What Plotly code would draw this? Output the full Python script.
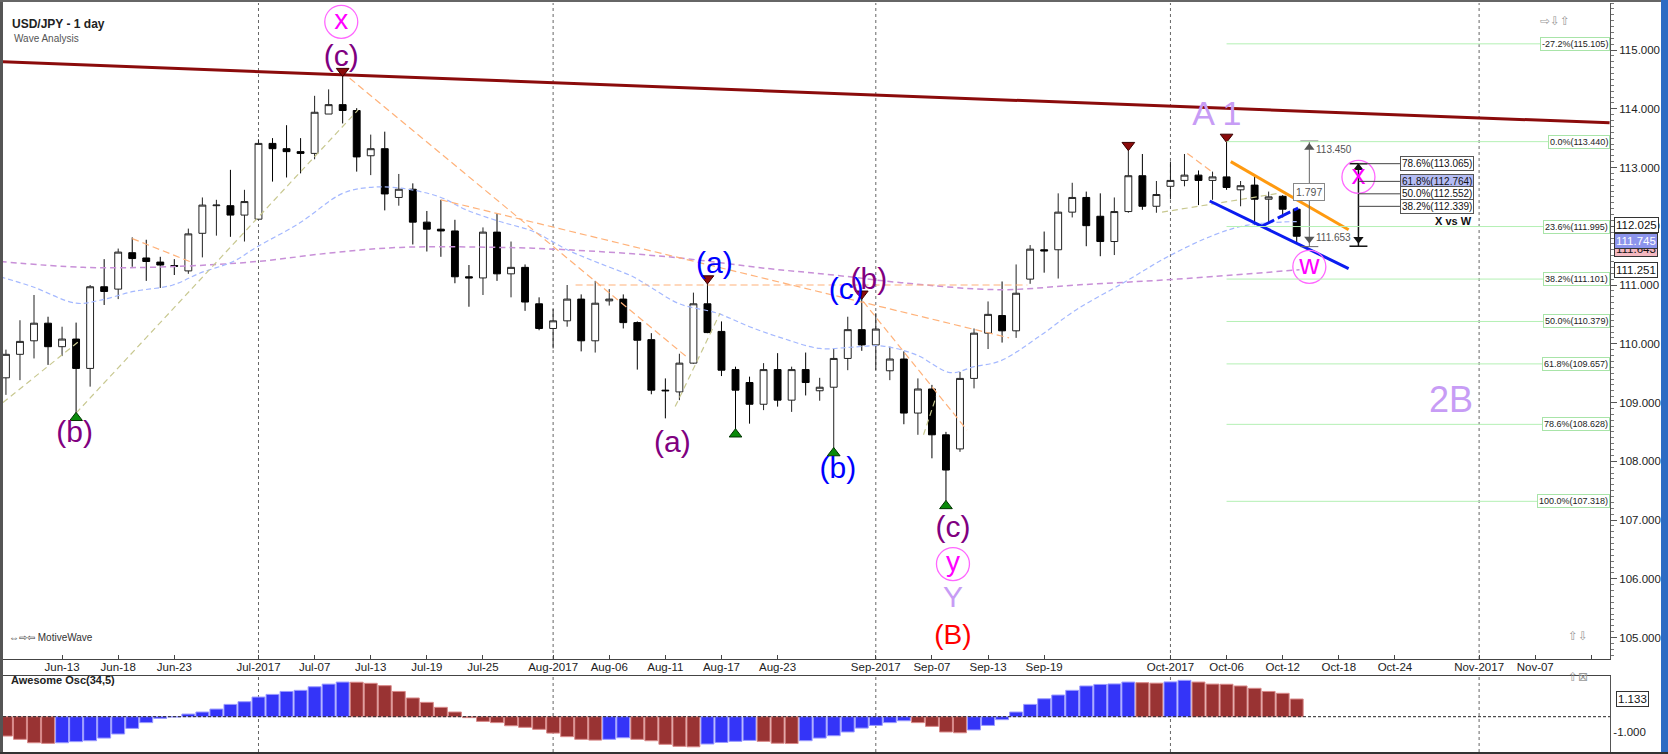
import pandas as pd
import plotly.graph_objects as go

W, H = 1668, 754
ML, MR, MT, MB = 3, 58, 3, 2
FONT = "Liberation Sans, Arial, sans-serif"

# ---- daily USD/JPY bars, 7 Jun - 13 Oct 2017 ----
DATES = pd.bdate_range("2017-06-07", "2017-10-13")
BARS = list(range(len(DATES)))

OPEN = [
    109.42, 109.82, 110.05, 110.35, 109.95, 110.08, 109.58, 110.97, 110.93, 111.55,
    111.46, 111.39, 111.33, 111.24, 111.88, 112.35, 112.35, 112.19, 112.12, 113.41,
    113.32, 113.27, 113.24, 113.91, 114.07, 113.97, 113.20, 113.32, 112.49, 112.63,
    112.07, 111.95, 111.92, 111.14, 111.12, 111.90, 111.19, 111.30, 110.68, 110.26,
    110.39, 110.76, 110.05, 110.73, 110.76, 110.36, 110.07, 109.21, 109.18, 109.67,
    110.68, 110.21, 109.56, 109.34, 108.97, 109.56, 109.04, 109.56, 109.20, 109.26,
    109.75, 110.24, 109.98, 109.54, 109.74, 108.82, 109.23, 108.45, 108.21, 109.41,
    110.18, 110.48, 110.22, 111.10, 111.60, 111.60, 112.24, 112.49, 112.17, 111.74,
    112.25, 112.86, 112.34, 112.68, 112.78, 112.87, 112.78, 112.84, 112.62, 112.70,
    112.46, 112.51, 112.29]
HIGH = [
    109.90, 110.40, 110.83, 110.46, 110.29, 110.36, 111.00, 111.44, 111.62, 111.81,
    111.77, 111.48, 111.44, 111.96, 112.49, 112.45, 112.96, 112.62, 113.48, 113.50,
    113.72, 113.50, 114.22, 114.33, 114.56, 114.01, 113.56, 113.61, 112.89, 112.73,
    112.26, 112.45, 112.11, 111.34, 111.98, 112.22, 111.74, 111.35, 110.79, 110.59,
    111.00, 110.84, 111.07, 110.93, 110.84, 110.38, 110.18, 109.41, 109.83, 110.87,
    111.03, 110.38, 109.61, 109.44, 109.67, 109.84, 109.61, 109.85, 109.42, 109.91,
    110.46, 110.77, 110.52, 109.95, 109.87, 109.41, 109.30, 108.50, 109.52, 110.26,
    110.72, 111.06, 111.35, 111.68, 111.91, 112.56, 112.74, 112.59, 112.56, 112.49,
    113.30, 113.23, 112.77, 113.10, 113.23, 112.95, 112.93, 113.44, 112.77, 112.84,
    112.59, 112.53, 112.30]
LOW = [
    109.13, 109.38, 109.75, 109.64, 109.79, 108.82, 109.27, 110.66, 110.76, 111.31,
    111.07, 110.95, 111.17, 111.19, 111.47, 111.84, 111.82, 111.74, 112.12, 112.76,
    112.83, 112.90, 113.14, 113.91, 113.75, 112.93, 112.87, 112.27, 112.35, 111.69,
    111.57, 111.48, 111.03, 110.63, 110.83, 111.07, 110.79, 110.56, 110.23, 109.92,
    110.29, 109.87, 109.85, 110.65, 110.26, 109.56, 109.14, 108.73, 109.04, 109.66,
    110.18, 109.45, 108.54, 108.64, 108.87, 108.93, 108.84, 109.12, 109.03, 108.22,
    109.55, 109.88, 109.55, 109.38, 108.63, 108.45, 108.05, 107.32, 108.16, 109.24,
    109.91, 110.02, 110.10, 111.02, 111.21, 111.11, 112.15, 111.66, 111.49, 111.51,
    112.23, 112.28, 112.23, 112.46, 112.68, 112.36, 112.45, 112.62, 112.34, 112.02,
    112.07, 112.15, 111.70]
CLOSE = [
    109.82, 110.04, 110.35, 109.95, 110.08, 109.58, 110.97, 110.89, 111.56, 111.45,
    111.40, 111.34, 111.32, 111.87, 112.36, 112.36, 112.19, 112.42, 113.41, 113.32,
    113.27, 113.24, 113.94, 114.07, 113.97, 113.18, 113.32, 112.55, 112.63, 112.07,
    111.95, 111.92, 111.14, 111.12, 111.90, 111.19, 111.30, 110.71, 110.26, 110.39,
    110.76, 110.05, 110.69, 110.76, 110.36, 110.06, 109.21, 109.20, 109.67, 110.68,
    110.19, 109.55, 109.21, 108.97, 109.56, 109.04, 109.56, 109.34, 109.26, 109.75,
    110.24, 109.98, 110.25, 109.74, 108.82, 109.23, 108.45, 107.85, 109.41, 110.18,
    110.50, 110.22, 110.86, 111.61, 111.58, 112.24, 112.49, 112.01, 111.74, 112.25,
    112.86, 112.34, 112.54, 112.78, 112.87, 112.78, 112.84, 112.66, 112.69, 112.46,
    112.50, 112.29, 111.83]

# Awesome Oscillator (34,5)
AO = [
    -1.24, -1.45, -1.67, -1.71, -1.67, -1.60, -1.54, -1.37, -1.11, -0.75,
    -0.38, -0.11, -0.02, 0.17, 0.30, 0.49, 0.79, 0.96, 1.26, 1.43,
    1.62, 1.69, 1.92, 2.09, 2.22, 2.21, 2.14, 1.99, 1.62, 1.20,
    0.92, 0.60, 0.30, -0.06, -0.30, -0.38, -0.58, -0.68, -0.81, -1.05,
    -1.28, -1.45, -1.50, -1.45, -1.35, -1.45, -1.54, -1.77, -1.90, -1.93,
    -1.75, -1.65, -1.58, -1.52, -1.58, -1.70, -1.72, -1.54, -1.37, -1.22,
    -0.98, -0.73, -0.56, -0.38, -0.26, -0.38, -0.62, -0.98, -1.03, -0.85,
    -0.56, -0.19, 0.30, 0.79, 1.15, 1.39, 1.69, 1.97, 2.07, 2.10,
    2.22, 2.18, 2.15, 2.23, 2.33, 2.22, 2.09, 2.08, 1.97, 1.82,
    1.62, 1.50, 1.133]

# moving averages at a few bars
MA_FAST_BAR = [-0.4, 1.9, 5, 6.7, 9.1, 11.9, 13.8, 16.2, 17.9, 20.9, 24.0, 25.9, 28.1,
               30.9, 32.8, 35.2, 37.6, 40, 42.3, 44.7, 45.9, 48, 50.7, 53, 55.4, 58,
               60.2, 62.5, 64.9, 67.3, 69, 70.9, 73.5, 76.3, 79.6, 82.8, 86.1, 88.5, 92]
MA_FAST = [111.14, 110.97, 110.69, 110.74, 110.89, 111.00, 111.20, 111.40, 111.65, 112.05,
           112.56, 112.66, 112.65, 112.50, 112.28, 112.08, 111.91, 111.60, 111.37, 111.14,
           110.97, 110.68, 110.52, 110.29, 110.09, 109.92, 109.94, 109.96, 109.81, 109.51,
           109.61, 109.71, 110.10, 110.58, 111.03, 111.48, 111.85, 112.02, 112.08]
MA_SLOW_BAR = [-0.4, 5.5, 11.5, 17.9, 23.3, 28.1, 35.2, 40, 47.2, 54.3, 59, 63.8, 70.9,
               76.3, 83.5, 92.2]
MA_SLOW = [111.40, 111.30, 111.31, 111.40, 111.55, 111.64, 111.64, 111.60, 111.48, 111.28,
           111.17, 111.04, 110.92, 111.00, 111.10, 111.26]

# x axis ticks (bar index) and their labels
TICK_POS = [4, 8, 12, 18, 22, 26, 30, 34, 39, 43, 47, 51, 55, 62, 66, 70, 74,
            83, 87, 91, 95, 99, 105, 109, 113]
TICK_TEXT = ["Jun-13", "Jun-18", "Jun-23", "Jul-2017", "Jul-07", "Jul-13", "Jul-19",
             "Jul-25", "Aug-2017", "Aug-06", "Aug-11", "Aug-17", "Aug-23", "Sep-2017",
             "Sep-07", "Sep-13", "Sep-19", "Oct-2017", "Oct-06", "Oct-12", "Oct-18",
             "Oct-24", "Nov-2017", "Nov-07", ""]

# drawn lines: (bars, prices)
RESISTANCE = ([-0.42, 114.3], [114.80, 113.76])
ORANGE_CHANNEL = ([87.3, 95.7], [113.10, 111.94])
BLUE_CHANNEL = ([85.8, 95.7], [112.43, 111.28])
BLUE_INNER = ([89.5, 92.1], [112.00, 112.31])
OLIVE_WAVES = [([-0.21, 5.3], [109.00, 110.06]), ([5, 25.1], [108.82, 113.98]),
               ([47.7, 50.9], [108.93, 110.52]), ([65.4, 66.3], [108.45, 109.10]),
               ([82.4, 90.7], [112.24, 112.56])]
ORANGE_WAVES = [([9.0, 13.1], [111.79, 111.40]), ([24.5, 48.5], [114.52, 109.78]),
                ([31.0, 71.5], [112.45, 110.10]), ([40.6, 72.8], [111.00, 111.00]),
                ([61.1, 68.5], [110.72, 108.53]), ([84.2, 86.1], [113.24, 112.90])]

PEAK_BARS = [24, 50, 61, 80, 87]
TROUGH_BARS = [5, 52, 59, 67]

# Fibonacci retracement of the Sep-08 low to the Oct-06 high
FIB_FROM = 87
FIB_PCT = ["-27.2%", "0.0%", "23.6%", "38.2%", "50.0%", "61.8%", "78.6%", "100.0%"]
FIB_LEVELS = [115.105, 113.440, 111.995, 111.101, 110.379, 109.657, 108.628, 107.318]

# X vs W projection
XW_BAR = 96.4
XW_PCT = ["78.6%", "61.8%", "50.0%", "38.2%"]
XW_LEVELS = [113.065, 112.764, 112.552, 112.339]
XW_LOW = 111.66

# price measure
MEASURE_BAR = 92.9
MEASURE_TOP = 113.450
MEASURE_BOTTOM = 111.653

# wave labels
PURPLE_TXT = ["(c)", "(b)", "(a)", "(b)", "(c)"]
PURPLE_BAR = [23.9, 4.9, 47.5, 61.5, 67.5]
PURPLE_PRICE = [114.86, 108.45, 108.28, 111.06, 106.84]
BLUE_TXT = ["(a)", "(c)", "(b)"]
BLUE_BAR = [50.5, 59.9, 59.3]
BLUE_PRICE = [111.34, 110.89, 107.85]
CIRCLE_TXT = ["x", "y", "x", "w"]
CIRCLE_BAR = [23.9, 67.5, 96.4, 92.9]
CIRCLE_PRICE = [115.48, 106.25, 112.84, 111.31]
LILAC_TXT = ["Y", "A 1", "2B"]
LILAC_BAR = [67.5, 86.3, 103.0]
LILAC_PRICE = [105.65, 113.86, 109.0]
LILAC_SIZE = [30, 34, 36]
RED_TXT = ["(B)"]
RED_BAR = [67.5]
RED_PRICE = [105.01]

# value tags on the price axis
TAG_TEXT = ["112.025", "111.643", "111.745", "111.251"]
TAG_PRICE = [112.025, 111.62, 111.745, 111.251]
TAG_BG = ["white", "#f4b8c0", "#8c94ec", "white"]
TAG_FG = ["#111", "#111", "white", "#111"]

X_RANGE = [-0.21, 114.33]
Y_RANGE = [104.634, 115.80]
AO_RANGE = [-2.263, 2.609]


def px_x(p):
    return (p - ML) / (W - ML - MR)


def px_y(p):
    return (H - MB - p) / (H - MT - MB)


fig = go.Figure()

# moving averages
fig.add_trace(go.Scatter(x=MA_SLOW_BAR, y=MA_SLOW, mode="lines", line_shape="spline",
                         line=dict(color="#c890d8", width=1.5, dash="6px,4px")))
fig.add_trace(go.Scatter(x=MA_FAST_BAR, y=MA_FAST, mode="lines", line_shape="spline",
                         line=dict(color="#a4b8ff", width=1.2, dash="5px,3px")))

# wave connectors
for xs, ys in OLIVE_WAVES:
    fig.add_trace(go.Scatter(x=xs, y=ys, mode="lines",
                             line=dict(color="#c8c890", width=1.2, dash="6px,4px")))
for xs, ys in ORANGE_WAVES:
    fig.add_trace(go.Scatter(x=xs, y=ys, mode="lines",
                             line=dict(color="#ffb27a", width=1.2, dash="7px,4px")))

# candles
fig.add_trace(go.Candlestick(
    x=BARS, open=OPEN, high=HIGH, low=LOW, close=CLOSE, whiskerwidth=0,
    increasing=dict(fillcolor="white", line=dict(color="#222", width=1)),
    decreasing=dict(fillcolor="black", line=dict(color="black", width=1)),
    hoverinfo="skip"))

# resistance and channel lines
fig.add_trace(go.Scatter(x=RESISTANCE[0], y=RESISTANCE[1], mode="lines",
                         line=dict(color="#8b0b0b", width=3)))
fig.add_trace(go.Scatter(x=ORANGE_CHANNEL[0], y=ORANGE_CHANNEL[1], mode="lines",
                         line=dict(color="#ff9a10", width=3)))
fig.add_trace(go.Scatter(x=BLUE_CHANNEL[0], y=BLUE_CHANNEL[1], mode="lines",
                         line=dict(color="#0b1cf0", width=3)))
fig.add_trace(go.Scatter(x=BLUE_INNER[0], y=BLUE_INNER[1], mode="lines",
                         line=dict(color="#0b1cf0", width=3, dash="14px,4px")))

# swing markers
fig.add_trace(go.Scatter(x=PEAK_BARS, y=[HIGH[k] + 0.08 for k in PEAK_BARS], mode="markers",
                         marker=dict(symbol="triangle-down", size=11, color="#8b0b0b",
                                     line=dict(color="#3a0000", width=1))))
fig.add_trace(go.Scatter(x=TROUGH_BARS, y=[LOW[k] - 0.08 for k in TROUGH_BARS], mode="markers",
                         marker=dict(symbol="triangle-up", size=11, color="#0a8a0a",
                                     line=dict(color="#003300", width=1))))

# fib levels
for pct, lvl in zip(FIB_PCT, FIB_LEVELS):
    fig.add_shape(type="line", xref="x", yref="y", x0=FIB_FROM, x1=X_RANGE[1], y0=lvl, y1=lvl,
                  line=dict(color="#b4f0b4", width=1))
    fig.add_annotation(x=X_RANGE[1], y=lvl, xref="x", yref="y", xanchor="right",
                       text=f"{pct}({lvl:.3f})", showarrow=False,
                       font=dict(size=9, color="#222", family=FONT),
                       bgcolor="white", bordercolor="#a8e4a8", borderwidth=1, borderpad=1)

# measure tool
cap = 0.64
fig.add_trace(go.Scatter(
    x=[MEASURE_BAR, MEASURE_BAR, None, MEASURE_BAR - cap, MEASURE_BAR + cap, None,
       MEASURE_BAR - cap, MEASURE_BAR + cap],
    y=[MEASURE_TOP, MEASURE_BOTTOM, None, MEASURE_TOP, MEASURE_TOP, None,
       MEASURE_BOTTOM, MEASURE_BOTTOM],
    mode="lines", line=dict(color="#666", width=1)))
fig.add_trace(go.Scatter(x=[MEASURE_BAR, MEASURE_BAR], y=[MEASURE_TOP - 0.11, MEASURE_BOTTOM + 0.13],
                         mode="markers", marker=dict(symbol=["triangle-up", "triangle-down"],
                                                     size=9, color="#555")))
fig.add_annotation(x=MEASURE_BAR + 0.3, y=MEASURE_TOP - 0.14, xref="x", yref="y",
                   xanchor="left", text=f"{MEASURE_TOP:.3f}", showarrow=False,
                   font=dict(size=10, color="#555", family=FONT))
fig.add_annotation(x=MEASURE_BAR + 0.3, y=MEASURE_BOTTOM + 0.15, xref="x", yref="y",
                   xanchor="left", text=f"{MEASURE_BOTTOM:.3f}", showarrow=False,
                   font=dict(size=10, color="#555", family=FONT))
fig.add_annotation(x=MEASURE_BAR, y=112.58, xref="x", yref="y",
                   text=f"{MEASURE_TOP - MEASURE_BOTTOM:.3f}", showarrow=False,
                   font=dict(size=10.5, color="#555", family=FONT),
                   bgcolor="white", bordercolor="#888", borderwidth=1, borderpad=2)

# X vs W tool
xw_top = XW_LEVELS[0]
fig.add_trace(go.Scatter(
    x=[XW_BAR, XW_BAR, None, XW_BAR - cap, XW_BAR + cap, None, XW_BAR - cap, XW_BAR + cap],
    y=[xw_top, XW_LOW, None, xw_top, xw_top, None, XW_LOW, XW_LOW],
    mode="lines", line=dict(color="#111", width=1.5)))
fig.add_trace(go.Scatter(x=[XW_BAR, XW_BAR], y=[xw_top - 0.07, XW_LOW + 0.12], mode="markers",
                         marker=dict(symbol=["triangle-up", "triangle-down"], size=9, color="#111")))
for pct, lvl in zip(XW_PCT, XW_LEVELS):
    fig.add_shape(type="line", xref="x", yref="y", x0=XW_BAR, x1=99.36, y0=lvl, y1=lvl,
                  line=dict(color="#444", width=1))
    fig.add_annotation(x=99.36, y=lvl, xref="x", yref="y", xanchor="left",
                       text=f"{pct}({lvl:.3f})", showarrow=False,
                       font=dict(size=10, color="#111", family=FONT),
                       bgcolor="#b4bcf4" if pct == "61.8%" else "white",
                       bordercolor="#555", borderwidth=1, borderpad=1)
fig.add_annotation(x=103.2, y=112.09, xref="x", yref="y", text="<b>X vs W</b>",
                   showarrow=False, font=dict(size=11, color="#111", family=FONT))

# wave labels
fig.add_trace(go.Scatter(x=PURPLE_BAR, y=PURPLE_PRICE, text=PURPLE_TXT, mode="text",
                         textfont=dict(size=30, color="#800080", family=FONT)))
fig.add_trace(go.Scatter(x=BLUE_BAR, y=BLUE_PRICE, text=BLUE_TXT, mode="text",
                         textfont=dict(size=30, color="#0000ff", family=FONT)))
fig.add_trace(go.Scatter(x=CIRCLE_BAR, y=CIRCLE_PRICE, text=CIRCLE_TXT, mode="markers+text",
                         textposition="middle center",
                         marker=dict(symbol="circle-open", size=33,
                                     line=dict(color="#ff66ff", width=1.3), color="#ff66ff"),
                         textfont=dict(size=28, color="#ff00ff", family=FONT)))
fig.add_trace(go.Scatter(x=LILAC_BAR, y=LILAC_PRICE, text=LILAC_TXT, mode="text",
                         textfont=dict(size=LILAC_SIZE, color="#c79cf5", family=FONT)))
fig.add_trace(go.Scatter(x=RED_BAR, y=RED_PRICE, text=RED_TXT, mode="text",
                         textfont=dict(size=28, color="#ff0000", family=FONT)))

# awesome oscillator
ao_colors = ["#3434f8" if i > 0 and AO[i] > AO[i - 1] else "#993333" for i in range(len(AO))]
ao_edges = ["#9a9aff" if c == "#3434f8" else "#d88888" for c in ao_colors]
fig.add_trace(go.Bar(x=BARS, y=AO, xaxis="x2", yaxis="y2",
                     marker=dict(color=ao_colors, line=dict(color=ao_edges, width=1))))
fig.add_shape(type="line", xref="x2 domain", yref="y2", x0=0, x1=1, y0=0, y1=0,
              line=dict(color="#222", width=1, dash="3px,2px"))

# month separators
for pos, txt in zip(TICK_POS, TICK_TEXT):
    if "2017" in txt:
        for yr in ("y domain", "y2 domain"):
            fig.add_shape(type="line", xref="x", yref=yr, x0=pos, x1=pos, y0=0, y1=1,
                          line=dict(color="#666", width=1, dash="3px,3px"), layer="below")

# value tags on the right axes
for txt, price, bg, fg in zip(TAG_TEXT, TAG_PRICE, TAG_BG, TAG_FG):
    fig.add_annotation(x=1, y=price, xref="paper", yref="y", xanchor="left", xshift=4,
                       text=txt, showarrow=False, bgcolor=bg, bordercolor="#333",
                       borderwidth=1, borderpad=1, font=dict(size=11.5, color=fg, family=FONT))
fig.add_annotation(x=1, y=AO[-1], xref="paper", yref="y2", xanchor="left", xshift=6,
                   text=f"{AO[-1]:.3f}", showarrow=False, bgcolor="white", bordercolor="#333",
                   borderwidth=1, borderpad=1, font=dict(size=11.5, color="#111", family=FONT))

# chart texts
texts = [
    (px_x(10), px_y(15), "<b>USD/JPY - 1 day</b>", 12, "#222"),
    (px_x(12), px_y(31), "Wave Analysis", 10, "#555"),
    (px_x(7), px_y(645), "⇔⇨⇦ MotiveWave", 10, "#333"),
    (px_x(9), px_y(688), "<b>Awesome Osc(34,5)</b>", 11, "#222"),
]
for x, y, t, s, c in texts:
    fig.add_annotation(x=x, y=y, xref="paper", yref="paper", xanchor="left", text=t,
                       showarrow=False, font=dict(size=s, color=c, family=FONT))
for x, y, t in [(1572, 12, "⇨⇩⇧"), (1590, 645, "⇧⇩"), (1590, 686, "⇧⊠")]:
    fig.add_annotation(x=px_x(x), y=px_y(y), xref="paper", yref="paper", text=t,
                       showarrow=False, font=dict(size=12, color="#999", family="DejaVu Sans"))

# frame
for x0, y0, x1, y1, col in [(0, 0, 3, H, "#555"), (0, 0, W, 2, "#666"),
                            (1661, 0, W, H, "#2d6bc3"), (0, H - 2, W, H, "#333")]:
    fig.add_shape(type="rect", xref="paper", yref="paper", x0=px_x(x0), x1=px_x(x1),
                  y0=px_y(y1), y1=px_y(y0), fillcolor=col, line=dict(width=0))

axis_font = dict(size=11.5, color="#222", family=FONT)
fig.update_layout(
    width=W, height=H, margin=dict(l=ML, r=MR, t=MT, b=MB),
    paper_bgcolor="white", plot_bgcolor="white", showlegend=False,
    hovermode=False, dragmode=False, bargap=0.08,
    xaxis=dict(range=X_RANGE, tickvals=TICK_POS, ticktext=TICK_TEXT, ticks="inside",
               ticklen=4, tickcolor="#444", showline=True, linecolor="#444", showgrid=False,
               zeroline=False, tickfont=axis_font, rangeslider=dict(visible=False),
               ticklabelstandoff=-3, anchor="y"),
    yaxis=dict(domain=[px_y(659), 1], range=Y_RANGE, side="right", dtick=1, tick0=0,
               tickformat=".3f", ticks="outside", ticklen=6, tickcolor="#555",
               minor=dict(dtick=0.1, ticks="outside", ticklen=3, tickcolor="#777"),
               showline=True, linecolor="#555", showgrid=False, zeroline=False,
               tickfont=axis_font),
    xaxis2=dict(range=X_RANGE, matches="x", anchor="y2", showticklabels=False, ticks="",
                showline=True, mirror=True, linecolor="#444", showgrid=False, zeroline=False),
    yaxis2=dict(domain=[0, px_y(676)], range=AO_RANGE, side="right", tickvals=[-1],
                ticktext=["-1.000"], ticks="", showline=True, linecolor="#555",
                showgrid=False, zeroline=False, tickfont=axis_font),
)

# the page body has a default 8px margin; drop it so the chart fills the window
fig.write_html("out.html", config={"displayModeBar": False},
               post_script="document.body.style.margin='0';")
